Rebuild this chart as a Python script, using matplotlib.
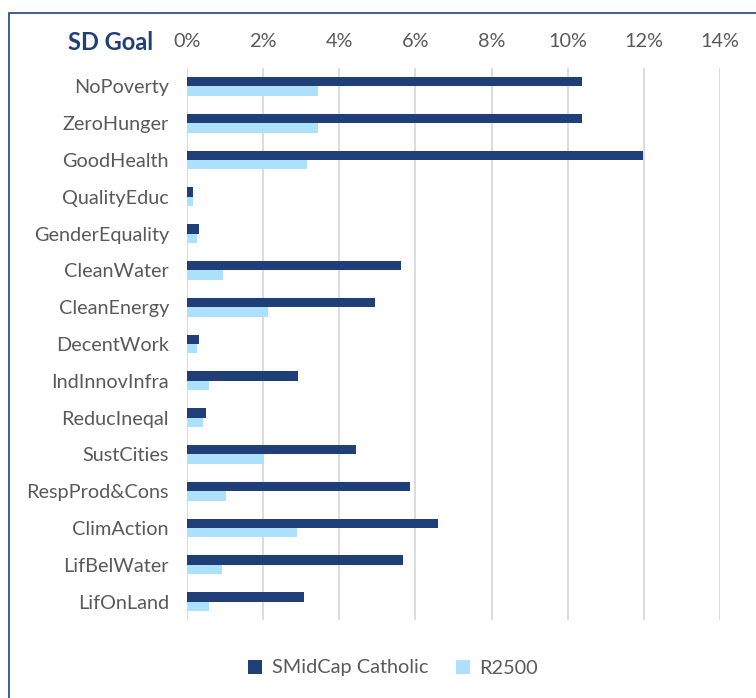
import matplotlib
matplotlib.use("Agg")
import matplotlib.pyplot as plt
import numpy as np
from matplotlib.patches import Rectangle

plt.rcParams["font.family"] = ["Lato", "DejaVu Sans"]

# ---- data ----
goals = ["NoPoverty", "ZeroHunger", "GoodHealth", "QualityEduc", "GenderEquality",
         "CleanWater", "CleanEnergy", "DecentWork", "IndInnovInfra", "ReducIneqal",
         "SustCities", "RespProd&Cons", "ClimAction", "LifBelWater", "LifOnLand"]
smidcap = [10.37, 10.37, 11.98, 0.15, 0.32, 5.61, 4.94, 0.32, 2.91, 0.49,
           4.44, 5.85, 6.60, 5.67, 3.07]
r2500 = [3.43, 3.43, 3.14, 0.15, 0.25, 0.95, 2.12, 0.25, 0.59, 0.42,
         2.02, 1.03, 2.88, 0.92, 0.58]
xticks = [0, 2, 4, 6, 8, 10, 12, 14]

C_DARK = "#203F78"
C_LIGHT = "#ADE0FA"
C_TXT = "#595959"
C_BORDER = "#2F4F8F"
FS = 14.3

W, H = 756, 698
fig = plt.figure(figsize=(W / 100, H / 100), dpi=100)

# outer border (frame runs past right/bottom edges)
fig.patches.append(Rectangle((9 / W, -0.1), 1.2, 1 - 13 / H + 0.1,
                             transform=fig.transFigure, fill=False,
                             edgecolor=C_BORDER, lw=1.3))

# axes: x 187..720 px, y 68..620 px
ax = fig.add_axes([187 / W, 1 - 620 / H, (720 - 187) / W, (620 - 68) / H])
y = np.arange(len(goals))
bh = 0.255
ax.barh(y - bh / 2, smidcap, height=bh, color=C_DARK, label="SMidCap Catholic")
ax.barh(y + bh / 2, r2500, height=bh, color=C_LIGHT, label="R2500")

ax.set_ylim(len(goals) - 0.5, -0.5)
ax.set_xlim(0, 14)
ax.set_yticks(y)
ax.set_yticklabels(goals, fontsize=FS, color=C_TXT)
ax.set_xticks(xticks)
ax.set_xticklabels([f"{v}%" for v in xticks], fontsize=FS, color=C_TXT)
ax.xaxis.tick_top()
ax.tick_params(axis="both", length=0)
ax.tick_params(axis="x", pad=13)
ax.tick_params(axis="y", pad=13)
ax.grid(True, axis="x", color="#D9D9D9", lw=1.3)
ax.set_axisbelow(True)
for s in ax.spines.values():
    s.set_visible(False)

fig.text(153 / W, 1 - 42 / H, "SD Goal", ha="right", va="center",
         fontsize=17, fontweight="bold", color="#1F3F7A")

ax.legend(loc="center", bbox_to_anchor=(393 / W, 1 - 668 / H),
          bbox_transform=fig.transFigure, ncol=2, frameon=False,
          fontsize=FS, labelcolor=C_TXT, handlelength=0.7, handleheight=0.7,
          columnspacing=1.4, handletextpad=0.5)

fig.savefig("out.png", dpi=100, facecolor="white")
